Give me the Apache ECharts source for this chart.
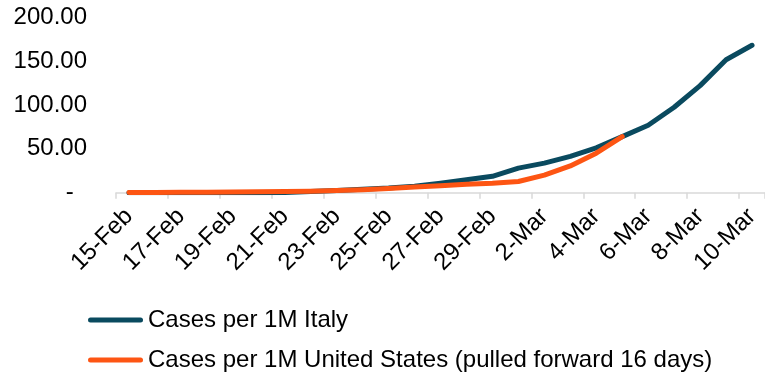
<!DOCTYPE html>
<html>
<head>
<meta charset="utf-8">
<script src="https://cdn.jsdelivr.net/npm/echarts@6/dist/echarts.min.js"></script>
<style>
  html, body { margin: 0; padding: 0; background: #fff; }
  #chart { width: 765px; height: 376px; }
</style>
</head>
<body>
<div id="chart"></div>
<script>
// Daily categories, 15 Feb to 10 Mar
const dates = [
  '15-Feb', '16-Feb', '17-Feb', '18-Feb', '19-Feb', '20-Feb', '21-Feb', '22-Feb',
  '23-Feb', '24-Feb', '25-Feb', '26-Feb', '27-Feb', '28-Feb', '29-Feb',
  '1-Mar', '2-Mar', '3-Mar', '4-Mar', '5-Mar', '6-Mar', '7-Mar', '8-Mar', '9-Mar', '10-Mar'
];

// Confirmed cases per million inhabitants
const italyName = 'Cases per 1M Italy';
const italyCases = [
  0.05, 0.05, 0.05, 0.05, 0.05, 0.05, 0.3, 1.3,
  2.6, 3.8, 5.3, 7.5, 10.8, 14.7, 18.7,
  28.0, 33.7, 41.4, 51.1, 63.9, 76.8, 97.4, 122.0, 151.5, 168.0
];

const usName = 'Cases per 1M United States (pulled forward 16 days)';
const usCases = [
  0.2, 0.3, 0.4, 0.5, 0.7, 1.0, 1.3, 1.7,
  2.4, 3.4, 4.8, 6.5, 8.0, 9.5, 10.8,
  12.8, 20.0, 30.5, 45.0, 63.8
];

// Value axis ticks
const yMin = 0;
const yMax = 200;
const yStep = 50;

const FONT = '"Liberation Sans", Arial, sans-serif';
const TEAL = '#0a4a5f';
const ORANGE = '#fd5513';

// Rounded bar used as the legend key
const keyIcon = 'path://M2.5,0 L52.5,0 A2.5,2.5 0 0 1 52.5,5 L2.5,5 A2.5,2.5 0 0 1 2.5,0 Z';

const chart = echarts.init(document.getElementById('chart'), null, { renderer: 'canvas' });

chart.setOption({
  animation: false,
  backgroundColor: '#ffffff',
  textStyle: { fontFamily: FONT },
  grid: {
    left: 116,
    top: 17.2,
    width: 655,
    height: 175.5,
    containLabel: false
  },
  legend: {
    orient: 'vertical',
    left: 88,
    top: 306,
    width: 660,
    height: 100,
    padding: 0,
    itemWidth: 55,
    itemHeight: 5,
    itemGap: 12,
    icon: keyIcon,
    textStyle: {
      fontFamily: FONT,
      fontSize: 24,
      color: '#000',
      lineHeight: 28
    },
    data: [
      { name: italyName, itemStyle: { color: TEAL } },
      { name: usName, itemStyle: { color: ORANGE } }
    ]
  },
  xAxis: {
    type: 'category',
    data: dates,
    boundaryGap: true,
    axisLine: { show: true, lineStyle: { color: '#d9d9d9', width: 1.5 } },
    axisTick: {
      show: true,
      interval: 1,
      length: 6,
      lineStyle: { color: '#d9d9d9', width: 1.5 }
    },
    axisLabel: {
      interval: 1,
      rotate: 45,
      margin: 20,
      fontFamily: FONT,
      fontSize: 24,
      color: '#000'
    },
    splitLine: { show: false }
  },
  yAxis: {
    type: 'value',
    min: yMin,
    max: yMax,
    interval: yStep,
    axisLine: { show: false },
    axisTick: { show: false },
    splitLine: { show: false },
    axisLabel: {
      margin: 29,
      fontFamily: FONT,
      fontSize: 24,
      color: '#000',
      formatter: function (v) {
        return v === 0 ? '-  ' : v.toFixed(2);
      }
    }
  },
  series: [
    {
      name: italyName,
      type: 'line',
      data: italyCases,
      showSymbol: false,
      symbol: 'none',
      lineStyle: { color: TEAL, width: 5, cap: 'round', join: 'round' },
      itemStyle: { color: TEAL },
      z: 2
    },
    {
      name: usName,
      type: 'line',
      data: usCases,
      showSymbol: false,
      symbol: 'none',
      lineStyle: { color: ORANGE, width: 5, cap: 'round', join: 'round' },
      itemStyle: { color: ORANGE },
      z: 3
    }
  ]
});
</script>
</body>
</html>
